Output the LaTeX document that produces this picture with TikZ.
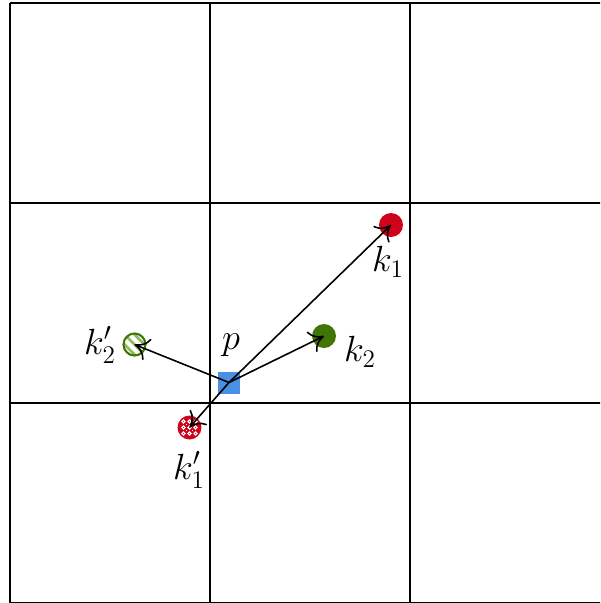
\documentclass[tikz,border=0pt]{standalone}
\usetikzlibrary{arrows.meta}
\definecolor{pblue}{HTML}{4A90E2}
\definecolor{kred}{HTML}{D0021B}
\definecolor{kgreen}{HTML}{417505}
\definecolor{kgreenl}{HTML}{8DBB5E}
\begin{document}
\begin{tikzpicture}[x=0.02cm,y=-0.02cm,
  gridline/.style={line width=1.1pt,black},
  pbox/.style={rectangle,fill=pblue,minimum size=0.44cm,inner sep=0pt},
  kfull/.style={circle,minimum size=0.48cm,inner sep=0pt},
  vec/.style={line width=0.9pt,-{To[length=8pt,width=13pt,line width=0.9pt]}},
  lab/.style={font=\fontsize{22}{26}\selectfont,inner sep=0pt}]
\useasboundingbox (0,0) rectangle (600,603);
\begin{scope}
\clip (0,0) rectangle (600,603);
\foreach \x in {10,210,410,610} \draw[gridline] (\x,3) -- (\x,603);
\foreach \y in {3,203,403,603} \draw[gridline] (10,\y) -- (610,\y);
\end{scope}
% points
\node[kfull,fill=kred] (k1) at (391,225) {};
\node[kfull,fill=kgreen] (k2) at (324,336) {};
\node[kfull,fill=kred,path picture={
  \foreach \dx in {-6,0,6} \foreach \dy in {-6,0,6}
    \draw[white,line width=0.6pt] ([shift={(\dx,\dy)}]path picture bounding box.center) circle (1.6);
  \foreach \dx in {-3,3} \foreach \dy in {-3,3}
    \fill[white] ([shift={(\dx,\dy)}]path picture bounding box.center) circle (0.7);
}] (k1p) at (189.5,427.5) {};
\node[circle,minimum size=0.44cm,inner sep=0pt,draw=kgreen,line width=1.2pt,path picture={
  \foreach \o in {-5,0,5}
    \draw[kgreenl,line width=1.5pt] ([shift={(-15+\o,-15-\o)}]path picture bounding box.center) -- ++(30,30);
}] (k2p) at (134.5,344.5) {};
\node[pbox] (p) at (229,382.5) {};
% labels
\node[lab] (lp) at (231,345) {$p$};
\node[lab] (lk1) at (388,262) {$k_1$};
\node[lab] (lk2) at (360,352) {$k_2$};
\node[lab] (lk2p) at (100,345) {$k'_2$};
\node[lab] (lk1p) at (189,470) {$k'_1$};
% vectors
\draw[vec] (p.center) -- (k1.center);
\draw[vec] (p.center) -- (k2.center);
\draw[vec] (p.center) -- (k2p.center);
\draw[vec] (p.center) -- (k1p.center);
\end{tikzpicture}
\end{document}
